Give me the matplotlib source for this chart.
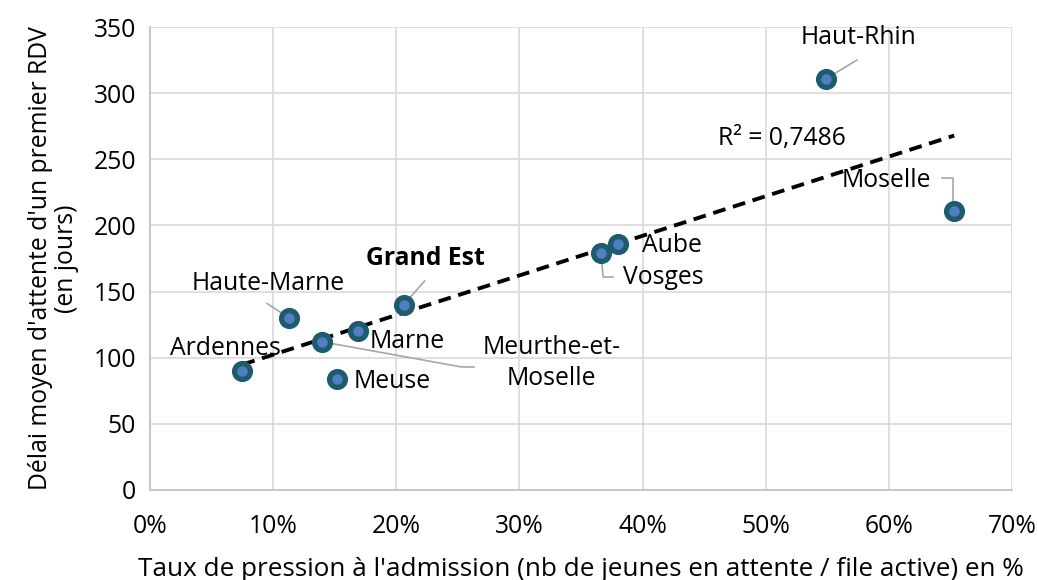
import matplotlib
matplotlib.use("Agg")
import matplotlib.pyplot as plt
import numpy as np
from matplotlib.ticker import PercentFormatter

plt.rcParams['font.family'] = ['Open Sans', 'DejaVu Sans']

names = ["Ardennes", "Haute-Marne", "Meurthe-et-\nMoselle", "Marne", "Meuse",
         "Grand Est", "Vosges", "Aube", "Haut-Rhin", "Moselle"]
taux = [7.5, 11.3, 14.0, 16.9, 15.2, 20.6, 36.6, 38.0, 54.9, 65.3]
delai = [90, 130, 112, 120, 84, 140, 179, 186, 311, 211]
x_ticks = [0, 10, 20, 30, 40, 50, 60, 70]
y_ticks = [0, 50, 100, 150, 200, 250, 300, 350]
r2_text = "R² = 0,7486"

FS = 17.8

fig = plt.figure(figsize=(10.38, 5.8), dpi=100)
ax = fig.add_axes([0.1445, 0.1552, 0.8305, 0.7982])

ax.set_xlim(0, 70)
ax.set_ylim(0, 350)
ax.set_xticks(x_ticks)
ax.set_yticks(y_ticks)
ax.xaxis.set_major_formatter(PercentFormatter(decimals=0))
ax.grid(True, color="#d9d9d9", linewidth=1.2)
ax.set_axisbelow(True)
for s in ["top", "right"]:
    ax.spines[s].set_visible(False)
for s in ["left", "bottom"]:
    ax.spines[s].set_color("#bfbfbf")
    ax.spines[s].set_linewidth(1.2)
ax.tick_params(length=0, labelsize=FS, colors="black")
ax.tick_params(axis="y", pad=10)
ax.tick_params(axis="x", pad=17)

# trend line
xa = np.array(taux)
ya = np.array(delai)
k, b = np.polyfit(xa, ya, 1)
xl = np.array([xa.min(), xa.max()])
ax.plot(xl, k * xl + b, linestyle=(0, (3.3, 2.0)), color="black", linewidth=2.8, zorder=2)

ax.scatter(taux, delai, s=130, facecolor="#4f7fc0", edgecolor="#1f5b70",
           linewidth=3.8, zorder=3)

lab = {
    "Ardennes": dict(xy=(6.1, 107)),
    "Haute-Marne": dict(xy=(9.6, 156), leader=[(11.3, 130), (9.5, 141)]),
    "Meurthe-et-\nMoselle": dict(xy=(32.6, 96), leader=[(14.0, 112), (25.3, 93), (26.3, 93)]),
    "Marne": dict(xy=(20.9, 112)),
    "Meuse": dict(xy=(19.7, 82)),
    "Grand Est": dict(xy=(22.4, 175), bold=True, leader=[(20.6, 140), (22.3, 158)]),
    "Vosges": dict(xy=(41.7, 161), leader=[(36.6, 179), (36.8, 161), (37.6, 161)]),
    "Aube": dict(xy=(42.4, 185)),
    "Haut-Rhin": dict(xy=(57.5, 342), leader=[(54.9, 311), (57.4, 325)]),
    "Moselle": dict(xy=(59.8, 234), leader=[(64.3, 236), (65.2, 236), (65.2, 211)]),
}
for n in names:
    d = lab[n]
    ax.text(d["xy"][0], d["xy"][1], n, ha="center", va="center", fontsize=FS,
            fontweight="bold" if d.get("bold") else "normal", zorder=4,
            linespacing=1.3)
    if "leader" in d:
        px, py = zip(*d["leader"])
        ax.plot(px, py, color="#a6a6a6", linewidth=1.2, zorder=2.5)

ax.text(46.1, 266, r2_text, fontsize=FS, ha="left", va="center")

ax.set_xlabel("Taux de pression à l'admission (nb de jeunes en attente / file active) en %",
              fontsize=18.8, labelpad=13)
ax.set_ylabel("Délai moyen d'attente d'un premier RDV\n(en jours)", fontsize=FS,
              labelpad=10, linespacing=1.1)

fig.savefig("out.png", dpi=100)
